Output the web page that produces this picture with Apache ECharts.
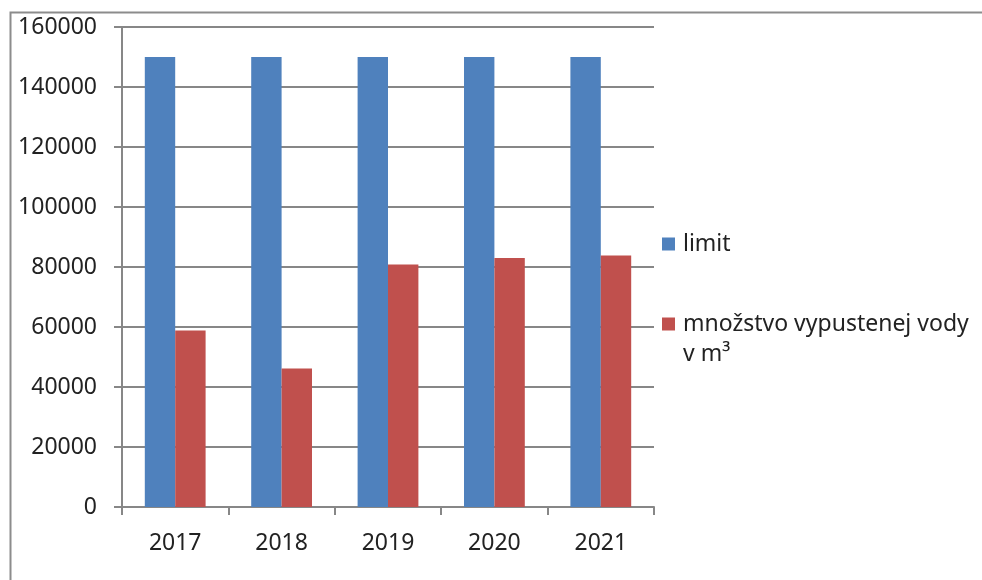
<!DOCTYPE html>
<html>
<head>
<meta charset="utf-8">
<script src="https://cdn.jsdelivr.net/npm/echarts@6/dist/echarts.min.js"></script>
<style>
html,body{margin:0;padding:0;background:#fff;}
#main{width:982px;height:580px;}
</style>
</head>
<body>
<div id="main"></div>
<script>
const categories = ['2017', '2018', '2019', '2020', '2021'];
const limitValues = [150000, 150000, 150000, 150000, 150000];
const waterValues = [58800, 46200, 80800, 83000, 83800];
const seriesNames = ['limit', 'množstvo vypustenej vody v m³'];

const FONT = '"Noto Sans", "Liberation Sans", sans-serif';
const GRAY = '#878787';

const chart = echarts.init(document.getElementById('main'), null, {renderer: 'canvas'});
chart.setOption({
  animation: false,
  backgroundColor: '#ffffff',
  graphic: [{
    type: 'rect',
    left: 8, top: 10,
    shape: {width: 1000, height: 600},
    style: {fill: 'none', stroke: '#8c8c8c', lineWidth: 2},
    silent: true
  }],
  grid: {left: 122, right: 328, top: 27, bottom: 73, containLabel: false},
  legend: {
    orient: 'vertical',
    left: 662,
    top: 229,
    padding: 0,
    itemWidth: 13,
    itemHeight: 13,
    itemGap: 20,
    icon: 'rect',
    formatter: function (name) {
      return name.indexOf(' v m³') >= 0 ? '\n' + name.replace(' v m³', '\nv m³') : name;
    },
    textStyle: {fontFamily: FONT, fontSize: 23, lineHeight: 30, color: '#222', padding: [0, 0, 0, 3]},
    data: seriesNames
  },
  xAxis: {
    type: 'category',
    data: categories,
    boundaryGap: true,
    axisLine: {show: true, lineStyle: {color: GRAY, width: 2}},
    axisTick: {show: true, length: 8, lineStyle: {color: GRAY, width: 2}},
    axisLabel: {fontFamily: FONT, fontSize: 23, lineHeight: 30, color: '#222', margin: 21}
  },
  yAxis: {
    type: 'value',
    min: 0, max: 160000, interval: 20000,
    axisLine: {show: true, lineStyle: {color: GRAY, width: 2}},
    axisTick: {show: true, length: 8, lineStyle: {color: GRAY, width: 2}},
    splitLine: {show: true, lineStyle: {color: GRAY, width: 2}},
    axisLabel: {fontFamily: FONT, fontSize: 23, color: '#222', margin: 25,
      formatter: function (v) { return String(v); }}
  },
  series: [
    {
      name: seriesNames[0], type: 'bar', data: limitValues,
      barGap: '0%', barCategoryGap: '42.86%',
      itemStyle: {color: '#4f81bd'}
    },
    {
      name: seriesNames[1], type: 'bar', data: waterValues,
      barGap: '0%', barCategoryGap: '42.86%',
      itemStyle: {color: '#c0504d'}
    }
  ]
});
</script>
</body>
</html>
